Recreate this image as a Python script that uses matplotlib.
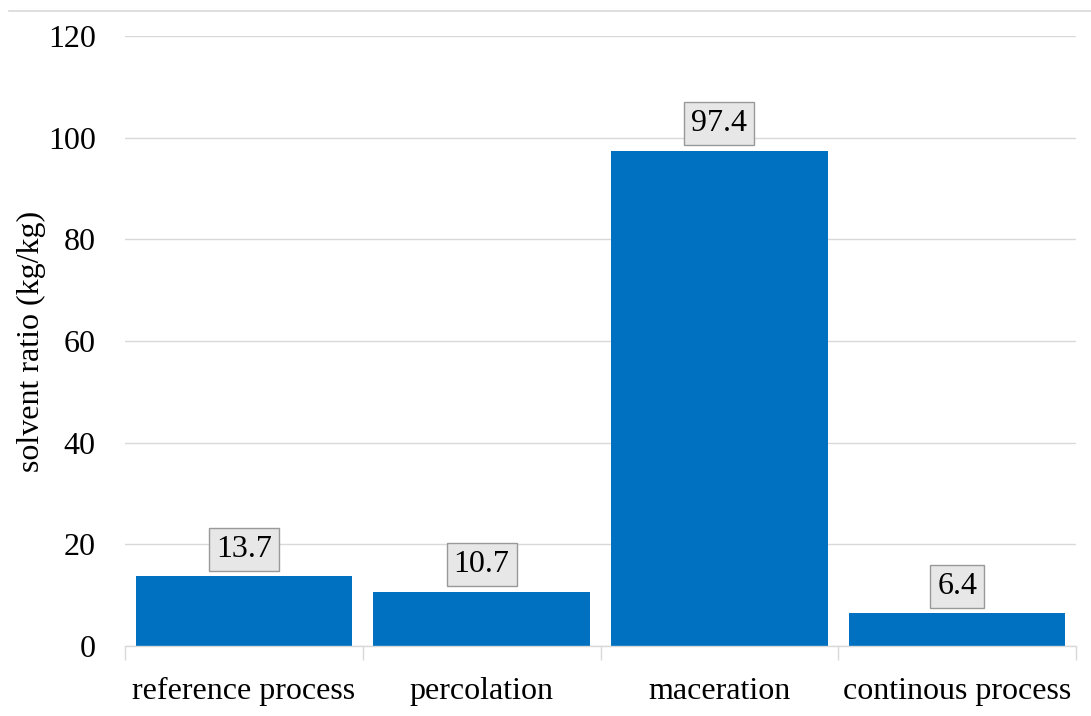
import matplotlib
matplotlib.use("Agg")
import matplotlib.pyplot as plt
from matplotlib.lines import Line2D
import numpy as np

categories = ["reference process", "percolation", "maceration", "continous process"]
values = [13.7, 10.7, 97.4, 6.4]
yticks = [0, 20, 40, 60, 80, 100, 120]

plt.rcParams["font.family"] = ["Liberation Serif", "DejaVu Serif"]
FS = 23

fig = plt.figure(figsize=(10.91, 7.16), dpi=100)
ax = fig.add_axes([0.1146, 0.0978, 0.9863 - 0.1146, 0.9497 - 0.0978])

x = np.arange(len(categories))
bars = ax.bar(x, values, width=0.91, color="#0070c0", zorder=3)

ax.set_xlim(-0.5, len(categories) - 0.5)
ax.set_ylim(0, 120)
ax.set_yticks(yticks)
ax.set_yticklabels([str(t) for t in yticks], fontsize=FS)
ax.tick_params(axis="y", length=0, pad=21)

ax.set_xticks(x)
ax.set_xticklabels(categories, fontsize=FS)
ax.tick_params(axis="x", which="major", length=0, pad=22)
ax.set_xticks(np.arange(-0.5, len(categories), 1.0), minor=True)
ax.tick_params(axis="x", which="minor", length=10, width=1, color="#d9d9d9")

ax.grid(axis="y", color="#d9d9d9", linewidth=1, zorder=0)
for side in ("top", "right", "left"):
    ax.spines[side].set_visible(False)
ax.spines["bottom"].set_color("#d9d9d9")
ax.spines["bottom"].set_linewidth(1)
ax.spines["bottom"].set_zorder(4)

ax.set_ylabel("solvent ratio (kg/kg)", fontsize=FS)
ax.yaxis.set_label_coords(-0.083, 0.5)

for xi, v in zip(x, values):
    ax.annotate(f"{v}", xy=(xi, v), xytext=(0, 9), textcoords="offset points",
                ha="center", va="bottom", fontsize=FS, zorder=5,
                bbox=dict(boxstyle="square,pad=0.22", facecolor="#e7e7e7",
                          edgecolor="#999999", linewidth=1))

# thin frame line along the top of the chart
fig.add_artist(Line2D([9 / 1091, 1.0], [1 - 11 / 716, 1 - 11 / 716],
                      color="#d9d9d9", linewidth=1.2, transform=fig.transFigure))

fig.savefig("out.png", dpi=100)
